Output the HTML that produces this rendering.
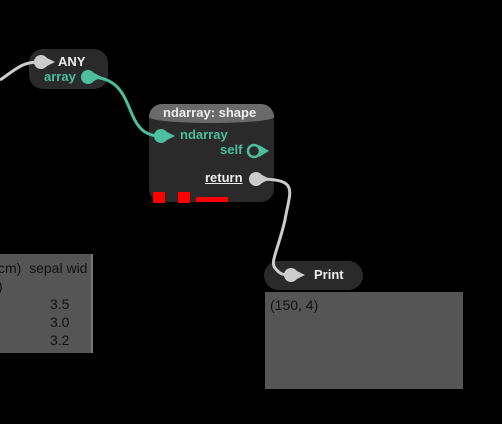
<!DOCTYPE html>
<html><head><style>
body{margin:0;width:502px;height:424px;background:#000;overflow:hidden;position:relative;font-family:"Liberation Sans",sans-serif}
.a{position:absolute}
.t{font-size:13px;font-weight:bold;color:#eee;white-space:nowrap}
.g{color:#4dbf9c}
</style></head><body>
<div class="a" style="left:0;top:254px;width:91px;height:99px;background:#555;border-right:2px solid #777;overflow:hidden;color:#111;font-size:14px">
<div class="a" style="left:-2px;top:6px;white-space:nowrap">cm)&nbsp; sepal wid</div>
<div class="a" style="left:-2px;top:24px">)</div>
<div class="a" style="left:50px;top:42px">3.5</div>
<div class="a" style="left:50px;top:60px">3.0</div>
<div class="a" style="left:50px;top:78px">3.2</div>
<div class="a" style="left:50px;top:96px">3.1</div>
</div>
<div class="a" style="left:29px;top:49px;width:79px;height:40px;background:#2a2a2a;border-radius:14px"></div>
<div class="a" style="left:149px;top:104px;width:125px;height:98px;background:#2a2a2a;border-radius:13px;overflow:hidden"><div style="height:19px;background:#6a6a6a;border-radius:0 0 50% 50%/0 0 6px 6px"></div></div>
<div class="a" style="left:264px;top:261px;width:99px;height:29px;background:#2a2a2a;border-radius:15px"></div>
<div class="a" style="left:265px;top:292px;width:198px;height:97px;background:#555;color:#111;font-size:14px"><div style="padding:5px 0 0 5px">(150, 4)</div></div>
<svg class="a" style="left:0;top:0" width="502" height="424">
<path d="M0,80 C15,70 22,62 38,62" stroke="#ccc" stroke-width="3" fill="none"/>
<path d="M90,77 C140,77 120,136 160,136" stroke="#4dbf9c" stroke-width="3" fill="none"/>
<path d="M258,179 C300,179 290,190 285,220 C278,250 270,262 275,268 C280,275 285,275 290,275" stroke="#ccc" stroke-width="3" fill="none"/>
<g fill="#ccc"><circle cx="41" cy="62" r="7"/><path d="M41,55 L55,62 L41,69Z"/></g>
<g fill="#4dbf9c"><circle cx="88" cy="77" r="7"/><path d="M88,70 L102,77 L88,84Z"/>
<circle cx="161" cy="136" r="7"/><path d="M161,129 L175,136 L161,143Z"/></g>
<circle cx="254" cy="151" r="6" fill="none" stroke="#4dbf9c" stroke-width="2.5"/><path d="M259,145 L269,151 L259,157Z" fill="#4dbf9c"/>
<g fill="#ccc"><circle cx="256" cy="179" r="7"/><path d="M256,172 L270,179 L256,186Z"/>
<circle cx="291" cy="275" r="7"/><path d="M291,268 L305,275 L291,282Z"/></g>
<rect x="153" y="192" width="12" height="11" fill="#f00"/>
<rect x="178" y="192" width="12" height="11" fill="#f00"/>
<rect x="196" y="197" width="32" height="5" fill="#f00"/>
</svg>
<div class="a t" style="left:58px;top:54px">ANY</div>
<div class="a t g" style="left:44px;top:69px">array</div>
<div class="a t" style="left:163px;top:105px">ndarray: shape</div>
<div class="a t g" style="left:180px;top:127px">ndarray</div>
<div class="a t g" style="left:220px;top:142px">self</div>
<div class="a t" style="left:205px;top:170px;text-decoration:underline">return</div>
<div class="a t" style="left:314px;top:267px">Print</div>
</body></html>
